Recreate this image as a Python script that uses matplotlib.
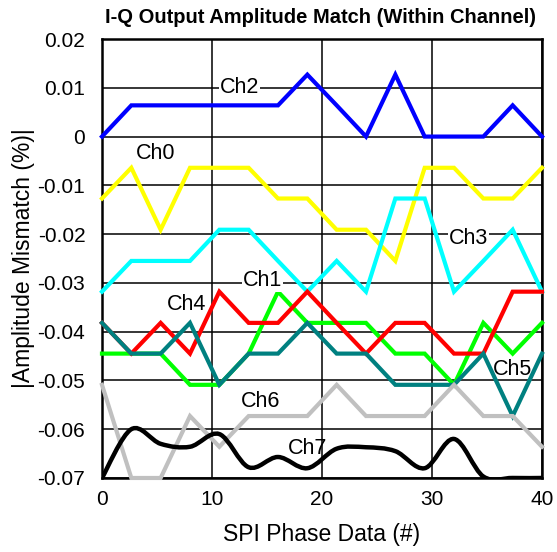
import numpy as np
import matplotlib
matplotlib.use("Agg")
import matplotlib.pyplot as plt
from matplotlib.path import Path
from matplotlib.patches import PathPatch

plt.rcParams['font.family'] = ['Liberation Sans', 'DejaVu Sans']

phase = [0, 2.667, 5.333, 8, 10.667, 13.333, 16, 18.667, 21.333, 24,
         26.667, 29.333, 32, 34.667, 37.333, 40]

ch0 = [-0.0127, -0.0064, -0.0191, -0.0064, -0.0064, -0.0064, -0.0127, -0.0127,
       -0.0191, -0.0191, -0.0255, -0.0064, -0.0064, -0.0127, -0.0127, -0.0064]
ch1 = [-0.0445, -0.0445, -0.0445, -0.0509, -0.0509, -0.0445, -0.0318, -0.0382,
       -0.0382, -0.0382, -0.0445, -0.0445, -0.0509, -0.0382, -0.0445, -0.0382]
ch2 = [0.0, 0.0064, 0.0064, 0.0064, 0.0064, 0.0064, 0.0064, 0.0127,
       0.0064, 0.0, 0.0127, 0.0, 0.0, 0.0, 0.0064, 0.0]
ch3 = [-0.0318, -0.0255, -0.0255, -0.0255, -0.0191, -0.0191, -0.0255, -0.0318,
       -0.0255, -0.0318, -0.0127, -0.0127, -0.0318, -0.0255, -0.0191, -0.0318]
ch4 = [-0.0382, -0.0445, -0.0382, -0.0445, -0.0318, -0.0382, -0.0382, -0.0318,
       -0.0382, -0.0445, -0.0382, -0.0382, -0.0445, -0.0445, -0.0318, -0.0318]
ch5 = [-0.0382, -0.0445, -0.0445, -0.0382, -0.0509, -0.0445, -0.0445, -0.0382,
       -0.0445, -0.0445, -0.0509, -0.0509, -0.0509, -0.0445, -0.0573, -0.0445]
ch6 = [-0.0509, -0.0700, -0.0700, -0.0573, -0.0636, -0.0573, -0.0573, -0.0573,
       -0.0509, -0.0573, -0.0573, -0.0573, -0.0509, -0.0573, -0.0573, -0.0636]
ch7 = [-0.0700, -0.0600, -0.0630, -0.0636, -0.0610, -0.0678, -0.0657, -0.0680,
       -0.0640, -0.0637, -0.0645, -0.0680, -0.0620, -0.0697, -0.0700, -0.0700]

series = [
    ("Ch0", ch0, "#FFFF00"),
    ("Ch1", ch1, "#00FF00"),
    ("Ch2", ch2, "#0000FF"),
    ("Ch3", ch3, "#00FFFF"),
    ("Ch4", ch4, "#FF0000"),
    ("Ch5", ch5, "#008080"),
    ("Ch6", ch6, "#C0C0C0"),
]

label_pos = {
    "Ch0": (4.85, -0.0034),
    "Ch1": (14.6, -0.0295),
    "Ch2": (12.5, 0.0101),
    "Ch3": (33.3, -0.0209),
    "Ch4": (7.7, -0.0344),
    "Ch5": (37.3, -0.0478),
    "Ch6": (14.4, -0.0543),
    "Ch7": (18.7, -0.0640),
}

xticks = [0, 10, 20, 30, 40]
yticks = [0.02, 0.01, 0, -0.01, -0.02, -0.03, -0.04, -0.05, -0.06, -0.07]
ytick_labels = ["0.02", "0.01", "0", "-0.01", "-0.02", "-0.03", "-0.04", "-0.05", "-0.06", "-0.07"]

fig = plt.figure(figsize=(5.57, 5.52), dpi=100)
ax = fig.add_axes([0.1831, 0.1341, 0.7900, 0.7952])
ax.set_xlim(0, 40)
ax.set_ylim(-0.07, 0.02)
ax.set_xticks(xticks)
ax.set_xticklabels([str(v) for v in xticks])
ax.set_yticks(yticks)
ax.set_yticklabels(ytick_labels)
ax.grid(True, color="black", linewidth=1.1, zorder=0)
ax.set_axisbelow(True)
for s in ax.spines.values():
    s.set_linewidth(1.8)
    s.set_color("black")
ax.tick_params(axis="y", labelsize=15, length=0, pad=12)
ax.tick_params(axis="x", labelsize=15, length=0, pad=9)

for name, vals, col in series:
    ax.plot(phase, vals, color=col, linewidth=3.0, zorder=3,
            solid_joinstyle="miter", clip_on=False)

# Ch7: smoothed curve (Bezier segments through the data points)
xs = np.array(phase, dtype=float)
ys = np.array(ch7, dtype=float)
n = len(xs)
verts = [(xs[0], ys[0])]
codes = [Path.MOVETO]
for i in range(n - 1):
    i0 = max(i - 1, 0)
    i3 = min(i + 2, n - 1)
    c1 = (xs[i] + (xs[i + 1] - xs[i0]) / 6.0, ys[i] + (ys[i + 1] - ys[i0]) / 6.0)
    c2 = (xs[i + 1] - (xs[i3] - xs[i]) / 6.0, ys[i + 1] - (ys[i3] - ys[i]) / 6.0)
    verts += [c1, c2, (xs[i + 1], ys[i + 1])]
    codes += [Path.CURVE4, Path.CURVE4, Path.CURVE4]
patch = PathPatch(Path(verts, codes), facecolor="none", edgecolor="black",
                  linewidth=3.2, zorder=4, clip_on=True)
ax.add_patch(patch)

for name, (lx, ly) in label_pos.items():
    ax.text(lx, ly, name, fontsize=15.5, ha="center", va="center", zorder=5,
            bbox=dict(facecolor="white", edgecolor="none", pad=0.5) if name in ("Ch1", "Ch2", "Ch3") else None)

ax.set_xlabel("SPI Phase Data (#)", fontsize=16.5, labelpad=10)
ax.set_ylabel("|Amplitude Mismatch (%)|", fontsize=16.5, labelpad=2)
fig.text(0.188, 0.968, "I-Q Output Amplitude Match (Within Channel)", fontsize=14.5,
         fontweight="bold", ha="left", va="center")

fig.savefig("out.png", dpi=100)
